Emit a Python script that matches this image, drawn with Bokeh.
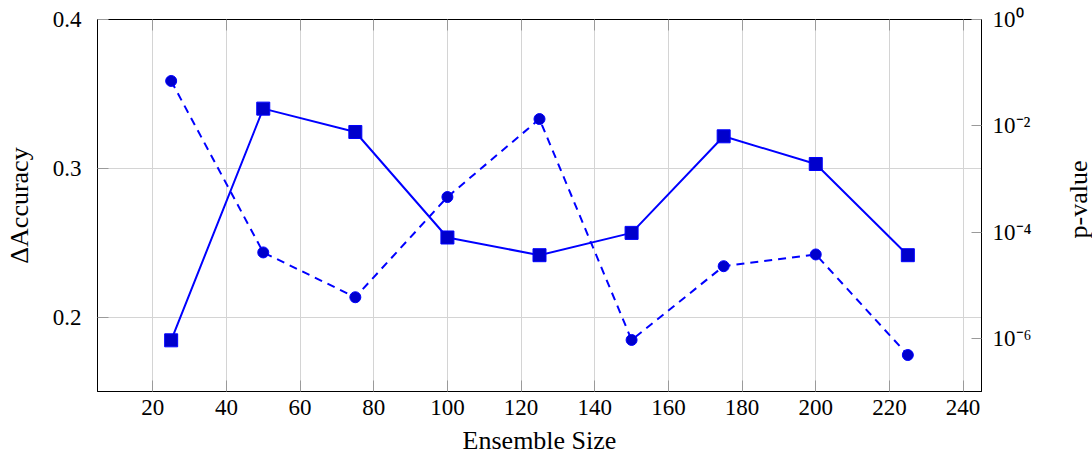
import math
from bokeh.plotting import figure
from bokeh.layouts import row
from bokeh.models import Range1d, LogScale, LogAxis, LinearAxis, FixedTicker, ColumnDataSource
from bokeh.core.properties import value
from bokeh.embed import file_html
from bokeh.resources import INLINE

ensemble_size = [25, 50, 75, 100, 125, 150, 175, 200, 225]
delta_accuracy = [0.1844, 0.3401, 0.3244, 0.2535, 0.2416, 0.2566, 0.3215, 0.3029, 0.2416]
p_value = [6.97e-2, 4.14e-5, 5.94e-6, 4.57e-4, 1.34e-2, 9.33e-7, 2.28e-5, 3.79e-5, 4.86e-7]
x_ticks = [20, 40, 60, 80, 100, 120, 140, 160, 180, 200, 220, 240]
acc_ticks = [0.2, 0.3, 0.4]
p_ticks = [1e0, 1e-2, 1e-4, 1e-6]
p_tick_labels = {1e0: "10⁰", 1e-2: "10⁻²", 1e-4: "10⁻⁴", 1e-6: "10⁻⁶"}

FONT = "Liberation Serif"
FS = "23px"
LFS = "26px"
BLUE = "#0000ff"
MARK = "#0000cc"

src = ColumnDataSource(dict(x=ensemble_size, acc=delta_accuracy, p=p_value))

p = figure(frame_width=884, frame_height=372, output_backend="svg", toolbar_location=None,
           x_range=Range1d(5, 245), y_range=Range1d(0.15, 0.4),
           min_border_left=97, min_border_right=75, min_border_top=19, min_border_bottom=68)
p.extra_y_ranges = {"p": Range1d(1e-7, 1)}
p.extra_y_scales = {"p": LogScale()}

p.background_fill_color = "white"
p.outline_line_color = "black"
p.outline_line_width = 1

p.xgrid.ticker = FixedTicker(ticks=x_ticks)
p.ygrid.ticker = FixedTicker(ticks=acc_ticks)
for g in (p.xgrid, p.ygrid):
    g.grid_line_color = "#d4d4d4"
    g.grid_line_width = 1

def style(ax):
    ax.major_tick_in = 11
    ax.major_tick_out = 0
    ax.minor_tick_line_color = None
    ax.major_tick_line_color = "#9a9a9a"
    ax.axis_line_color = "black"
    ax.major_label_text_font = FONT
    ax.major_label_text_font_size = FS
    ax.major_label_text_color = "black"
    ax.axis_label_text_font = FONT
    ax.axis_label_text_font_size = LFS
    ax.axis_label_text_font_style = "normal"
    ax.axis_label_text_color = "black"

xa = p.xaxis[0]
xa.ticker = FixedTicker(ticks=x_ticks)
xa.axis_label = "Ensemble Size"
style(xa)
xa.major_label_standoff = 8
xa.axis_label_standoff = 8

ya = p.yaxis[0]
ya.ticker = FixedTicker(ticks=acc_ticks)
ya.axis_label = "ΔAccuracy"
style(ya)
ya.major_label_standoff = 16
ya.axis_label_standoff = 16

top = LinearAxis(ticker=FixedTicker(ticks=x_ticks), major_label_overrides={t: "" for t in x_ticks})
style(top)
top.major_label_standoff = 0
p.add_layout(top, "above")

ra = LogAxis(y_range_name="p", ticker=FixedTicker(ticks=p_ticks), major_label_overrides=p_tick_labels)
style(ra)
ra.major_tick_in = 10
ra.major_label_standoff = 11
p.add_layout(ra, "right")

p.line("x", "acc", source=src, line_color=BLUE, line_width=2)
p.scatter("x", "acc", source=src, marker="square", size=13, fill_color=MARK, line_color=BLUE, line_width=1)

p.line("x", "p", source=src, y_range_name="p", line_color=BLUE, line_width=2, line_dash="8 6")
p.scatter("x", "p", source=src, y_range_name="p", marker="circle", size=11, fill_color=MARK, line_color=BLUE, line_width=1)

# right-axis title strip (reads bottom-to-top, like the reference)
t = figure(width=36, height=459, output_backend="svg", toolbar_location=None,
           x_range=Range1d(0, 1), y_range=Range1d(0, 1), min_border=0)
t.axis.visible = False
t.grid.visible = False
t.outline_line_color = None
t.text(x=[0.61], y=[1 - 222 / 459], text=["p-value"], angle=math.pi / 2, text_align="center",
       text_baseline="middle", text_font=value(FONT), text_font_size=LFS, text_color="black")

layout = row(p, t, spacing=0)
open("out.html", "w").write(file_html(layout, INLINE))
